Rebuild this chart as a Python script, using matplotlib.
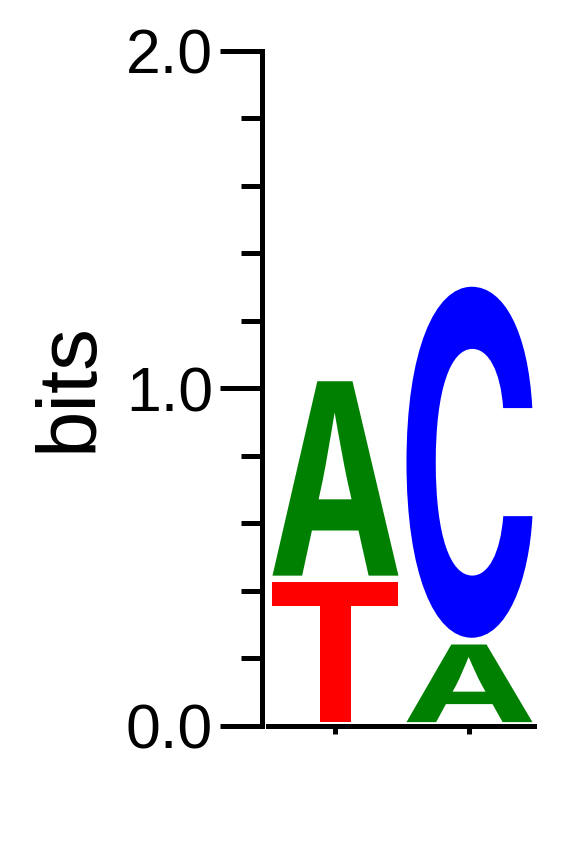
import matplotlib
matplotlib.use("Agg")
import matplotlib.pyplot as plt
from matplotlib.font_manager import FontProperties
from matplotlib.textpath import TextPath
from matplotlib.patches import PathPatch
from matplotlib.transforms import Affine2D

# sequence logo data: per position, letters stacked bottom -> top with heights in bits
positions = [1, 2]
letters = [["T", "A"], ["A", "C"]]
heights = [[0.434, 0.596], [0.25, 1.06]]
colors = {"A": "#008000", "C": "#0000ff", "G": "#ffa500", "T": "#ff0000"}
ytick_major = [0.0, 1.0, 2.0]
ytick_labels = ["0.0", "1.0", "2.0"]

plt.rcParams["font.family"] = ["Liberation Sans", "DejaVu Sans"]

W, H = 583, 842
fig = plt.figure(figsize=(W / 100, H / 100), dpi=100)
left, right = 261.5 / W, 537 / W
bottom, top = 1 - 725.5 / H, 1 - 50.5 / H
ax = fig.add_axes([left, bottom, right - left, top - bottom])

glyph_font = FontProperties(family="Inter", weight="bold")
letter_w = 0.94
pad = 0.01


def draw_letter(ch, x, y0, h):
    path = TextPath((0, 0), ch, size=1, prop=glyph_font)
    bb = path.get_extents()
    y_lo, y_hi = y0 + pad, y0 + h - pad
    tr = (Affine2D().translate(-bb.x0, -bb.y0)
          .scale(letter_w / bb.width, (y_hi - y_lo) / bb.height)
          .translate(x - letter_w / 2, y_lo))
    ax.add_patch(PathPatch(tr.transform_path(path), facecolor=colors[ch],
                           edgecolor="none", lw=0))


for pos, lets, hs in zip(positions, letters, heights):
    base = 0.0
    for ch, h in zip(lets, hs):
        draw_letter(ch, pos, base, h)
        base += h

ax.set_xlim(0.448, 2.504)
ax.set_ylim(0, 2)

for s in ["top", "right"]:
    ax.spines[s].set_visible(False)
for s in ["left", "bottom"]:
    ax.spines[s].set_linewidth(3.6)
ax.spines["bottom"].set_bounds(0.5, 2.485)

ax.set_yticks(ytick_major)
ax.set_yticklabels(ytick_labels)
ax.set_yticks([0.2, 0.4, 0.6, 0.8, 1.2, 1.4, 1.6, 1.8], minor=True)
ax.tick_params(axis="y", which="major", direction="out", length=30, width=3.6,
               labelsize=45, pad=5)
ax.tick_params(axis="y", which="minor", direction="out", length=14.8, width=3.6)
ax.set_xticks(positions)
ax.set_xticklabels([])
ax.tick_params(axis="x", which="major", direction="out", length=5.5, width=3.6)

fig.text(70 / W, 1 - 387 / H, "bits", rotation=90, fontsize=60,
         ha="center", va="center")

fig.savefig("out.png", dpi=100)
